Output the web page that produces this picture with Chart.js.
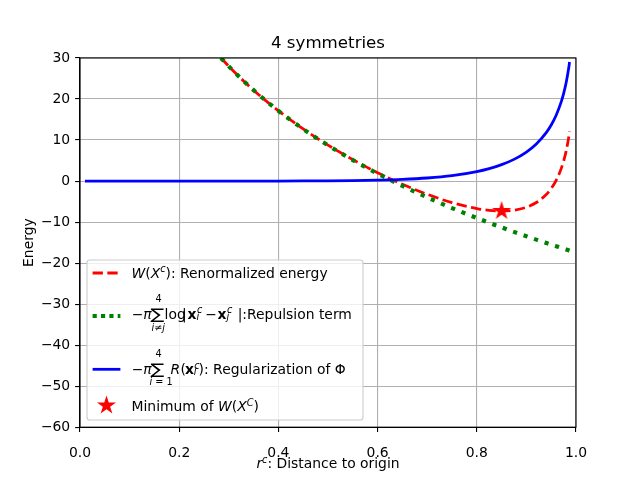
<!DOCTYPE html>
<html><head><meta charset="utf-8">
<script src="https://cdn.jsdelivr.net/npm/chart.js@4.4.1/dist/chart.umd.min.js"></script>
<style>
html,body{margin:0;padding:0;background:#fff;}
#wrap{position:relative;width:640px;height:480px;}
canvas{position:absolute;left:0;top:0;}
svg{position:absolute;left:0;top:0;pointer-events:none;font-family:'DejaVu Sans';font-size:13.9px;fill:#000;}
</style></head><body>
<div id="wrap">
<canvas id="c" width="640" height="480"></canvas>
<svg width="640" height="480" xmlns="http://www.w3.org/2000/svg">
<text x="328" y="468" text-anchor="middle"><tspan font-style="italic">r</tspan><tspan font-style="italic" font-size="9.7" dy="-5.3">c</tspan><tspan dy="5.3">: Distance to origin</tspan></text>
<g id="legend">
<rect x="87" y="260" width="276" height="160" rx="2.8" fill="#fff" fill-opacity="0.8" stroke="#cccccc" stroke-width="1.1"/>
<line x1="92.6" x2="120.4" y1="273" y2="273" stroke="#ff0000" stroke-width="2.78" stroke-dasharray="10.3 4.45"/>
<line x1="92.6" x2="120.4" y1="316" y2="316" stroke="#008000" stroke-width="4.17" stroke-dasharray="4.17 4.2"/>
<line x1="92.6" x2="120.4" y1="369.3" y2="369.3" stroke="#0000ff" stroke-width="2.78"/>
<polygon id="legendStar" fill="#ff0000"/>
<text x="131.5" y="277.7"><tspan font-style="italic">W</tspan>(<tspan font-style="italic">X</tspan><tspan font-style="italic" font-size="9.7" dy="-5.3">c</tspan><tspan dy="5.3">): Renormalized energy</tspan></text>
<text x="131.7" y="318.5">−<tspan font-style="italic">π</tspan></text>
<text transform="translate(150.6,318.5) scale(1.4,1)" x="0" y="0" font-size="14.7">∑</text>
<text x="158.5" y="302.3" font-size="9.7" text-anchor="middle">4</text>
<text x="158.3" y="330.5" font-size="9.7" text-anchor="middle"><tspan font-style="italic">i</tspan>≠<tspan font-style="italic">j</tspan></text>
<text x="164.6" y="318.5">log</text>
<text x="182" y="318.5">|</text>
<text x="187.5" y="318.5" font-weight="bold">x</text>
<text x="197" y="313.3" font-size="9.7" font-style="italic">c</text>
<text x="196.5" y="320" font-size="9.7" font-style="italic">i</text>
<text x="205.2" y="318.5">−</text>
<text x="217.5" y="318.5" font-weight="bold">x</text>
<text x="227" y="313.3" font-size="9.7" font-style="italic">c</text>
<text x="226.5" y="320" font-size="9.7" font-style="italic">j</text>
<text x="237.7" y="318.5">|:Repulsion term</text>
<text x="131.7" y="374.3">−<tspan font-style="italic">π</tspan></text>
<text transform="translate(150.6,374.3) scale(1.4,1)" x="0" y="0" font-size="14.7">∑</text>
<text x="158.5" y="357.3" font-size="9.7" text-anchor="middle">4</text>
<text x="161" y="385" font-size="9.7" text-anchor="middle"><tspan font-style="italic">i</tspan> = 1</text>
<text x="170.5" y="374.3" font-style="italic">R</text>
<text x="180.4" y="374.3">(</text>
<text x="184.9" y="374.3" font-weight="bold">x</text>
<text x="194.2" y="368.5" font-size="9.7" font-style="italic">c</text>
<text x="193.8" y="374.8" font-size="9.7" font-style="italic">i</text>
<text x="198.6" y="374.3">): Regularization of Φ</text>
<text x="131.5" y="411">Minimum of <tspan font-style="italic">W</tspan>(<tspan font-style="italic">X</tspan><tspan font-style="italic" font-size="9.7" dy="-5.3">C</tspan><tspan dy="5.3">)</tspan></text>
</g>
</svg>
</div>
<script>
// ---- data ----
const rRegularization = [0.01, 0.1, 0.2, 0.3, 0.4, 0.45, 0.5, 0.55, 0.6, 0.65, 0.7, 0.75, 0.8, 0.825, 0.85, 0.875, 0.9, 0.92, 0.94, 0.95, 0.96, 0.97, 0.975, 0.98, 0.985, 0.987];
const regularization = [0, 0, 0, 0.001, 0.008, 0.021, 0.049, 0.106, 0.213, 0.407, 0.746, 1.325, 2.31, 3.04, 4.00, 5.29, 7.08, 9.05, 11.82, 13.68, 16.06, 19.24, 21.32, 23.90, 27.30, 29.01];
const rCurves = [0.2843, 0.3, 0.325, 0.35, 0.375, 0.4, 0.425, 0.45, 0.475, 0.5, 0.55, 0.6, 0.65, 0.7, 0.75, 0.8, 0.825, 0.85, 0.875, 0.9, 0.92, 0.94, 0.95, 0.96, 0.97, 0.975, 0.98, 0.985, 0.987];
const renormalized = [30.0, 27.97, 24.95, 22.16, 19.56, 17.13, 14.85, 12.70, 10.67, 8.76, 5.23, 2.05, -0.77, -3.22, -5.26, -6.70, -7.13, -7.29, -7.10, -6.37, -5.23, -3.27, -1.81, 0.18, 2.97, 4.85, 7.24, 10.45, 12.08];
const repulsion = [30.0, 27.97, 24.95, 22.16, 19.56, 17.12, 14.84, 12.68, 10.64, 8.71, 5.12, 1.84, -1.18, -3.97, -6.58, -9.01, -10.17, -11.29, -12.39, -13.45, -14.28, -15.09, -15.49, -15.88, -16.27, -16.47, -16.66, -16.85, -16.93];
const minimumR = [0.85];
const minimumW = [-7.29];
const xTicks = [0, 0.2, 0.4, 0.6, 0.8, 1.0];
const yTicks = [30, 20, 10, 0, -10, -20, -30, -40, -50, -60];

const FONT = 'DejaVu Sans';
const STAR_R = 10;

function starPoints(cx, cy, R) {
  const pts = [];
  for (let k = 0; k < 10; k++) {
    const rad = (k % 2) ? R * 0.381966 : R;
    const a = -Math.PI / 2 + k * Math.PI / 5;
    pts.push([cx + rad * Math.cos(a), cy + rad * Math.sin(a)]);
  }
  return pts;
}
function makeStar(R, color) {
  const c = document.createElement('canvas');
  const s = Math.ceil(2 * R + 2);
  c.width = s; c.height = s;
  const g = c.getContext('2d');
  g.fillStyle = color;
  g.beginPath();
  starPoints(s / 2, s / 2, R).forEach(([x, y], i) => i ? g.lineTo(x, y) : g.moveTo(x, y));
  g.closePath(); g.fill();
  return c;
}
document.getElementById('legendStar').setAttribute('points',
  starPoints(106.5, 405.5, STAR_R).map(p => p[0].toFixed(2) + ',' + p[1].toFixed(2)).join(' '));

const toXY = (xs, ys) => xs.map((x, i) => ({x: x, y: ys[i]}));

const frame = {
  id: 'frame',
  afterDatasetsDraw(chart) {
    const {ctx, chartArea: a} = chart;
    ctx.save();
    ctx.strokeStyle = '#000'; ctx.lineWidth = 1.1;
    ctx.strokeRect(a.left, a.top, a.right - a.left, a.bottom - a.top);
    ctx.restore();
  }
};

new Chart(document.getElementById('c'), {
  type: 'line',
  data: {
    datasets: [
      {label: 'W', data: toXY(rCurves, renormalized), borderColor: '#ff0000', borderWidth: 2.78,
       borderDash: [10.3, 4.45], pointRadius: 0, cubicInterpolationMode: 'monotone', fill: false, order: 4},
      {label: 'Repulsion', data: toXY(rCurves, repulsion), borderColor: '#008000', borderWidth: 4.17,
       borderDash: [4.17, 6.9], borderCapStyle: 'butt', pointRadius: 0, cubicInterpolationMode: 'monotone', fill: false, order: 3},
      {label: 'Regularization', data: toXY(rRegularization, regularization), borderColor: '#0000ff', borderWidth: 2.78,
       pointRadius: 0, cubicInterpolationMode: 'monotone', fill: false, order: 2},
      {label: 'Minimum', data: toXY(minimumR, minimumW), showLine: false, pointStyle: makeStar(STAR_R, '#ff0000'),
       pointRadius: STAR_R, backgroundColor: '#ff0000', borderColor: '#ff0000', order: 1}
    ]
  },
  options: {
    responsive: false,
    animation: false,
    layout: {padding: {left: 0, right: 64, top: 0, bottom: 0}},
    plugins: {
      legend: {display: false},
      tooltip: {enabled: false},
      title: {display: true, fullSize: false, text: '4 symmetries', color: '#000',
              font: {family: FONT, size: 16.67, weight: 'normal'}, padding: {top: 34, bottom: 4}}
    },
    scales: {
      x: {
        type: 'linear', min: 0, max: 1,
        afterBuildTicks: s => { s.ticks = xTicks.map(v => ({value: v})); },
        afterFit: s => { s.height = 52.8; },
        ticks: {color: '#000', font: {family: FONT, size: 13.9}, padding: 12.8, maxRotation: 0,
                callback: v => Number(v).toFixed(1)},
        grid: {color: '#b0b0b0', lineWidth: 1.1, tickColor: '#000', tickLength: 4.9, tickWidth: 1.1},
        border: {display: true, color: '#000', width: 1.1}
      },
      y: {
        type: 'linear', min: -60, max: 30,
        afterBuildTicks: s => { s.ticks = yTicks.map(v => ({value: v})); },
        afterFit: s => { s.width = 80; },
        ticks: {color: '#000', font: {family: FONT, size: 13.9}, padding: 4.9,
                callback: v => v < 0 ? '\u2212' + Math.abs(v) : String(v)},
        grid: {color: '#b0b0b0', lineWidth: 1.1, tickColor: '#000', tickLength: 4.9, tickWidth: 1.1},
        border: {display: true, color: '#000', width: 1.1},
        title: {display: true, text: 'Energy', color: '#000', font: {family: FONT, size: 13.9},
                padding: {top: 20.7, bottom: 0}}
      }
    }
  },
  plugins: [frame]
});
</script>
</body></html>
